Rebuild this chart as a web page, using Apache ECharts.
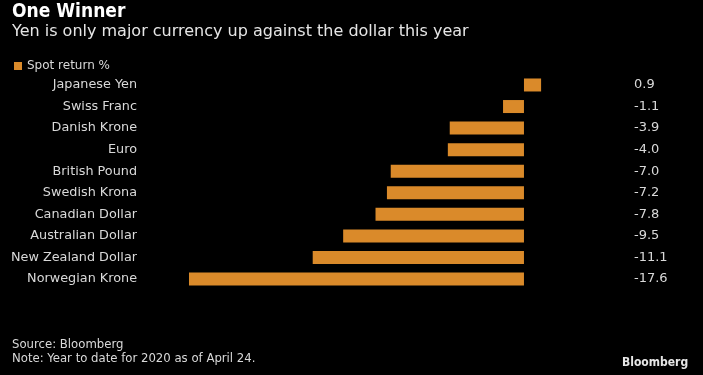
<!DOCTYPE html>
<html><head><meta charset="utf-8">
<script src="https://cdn.jsdelivr.net/npm/echarts@6/dist/echarts.min.js"></script>
<style>html,body{margin:0;padding:0;background:#000;}#c{width:703px;height:375px;}</style>
</head><body><div id="c"></div>
<script>
const categories = ["Japanese Yen","Swiss Franc","Danish Krone","Euro","British Pound","Swedish Krona","Canadian Dollar","Australian Dollar","New Zealand Dollar","Norwegian Krone"];
const spotReturn = [0.9,-1.1,-3.9,-4.0,-7.0,-7.2,-7.8,-9.5,-11.1,-17.6];
const valueLabels = ["0.9","-1.1","-3.9","-4.0","-7.0","-7.2","-7.8","-9.5","-11.1","-17.6"];

const chart = echarts.init(document.getElementById('c'), null, {renderer:'canvas'});
const font = 'DejaVu Sans';
chart.setOption({
  backgroundColor:'#000',
  animation:false,
  title:[
    {text:'One Winner',left:7,top:-2,textStyle:{color:'#fff',fontFamily:'DejaVu Sans Condensed',fontWeight:'bold',fontSize:19}},
    {text:'Yen is only major currency up against the dollar this year',left:7,top:19,textStyle:{color:'#e6e6e6',fontFamily:font,fontWeight:'normal',fontSize:16}},
    {text:'Source: Bloomberg\nNote: Year to date for 2020 as of April 24.',left:7,top:333,textStyle:{color:'#d9d9d9',fontFamily:'DejaVu Sans Condensed',fontWeight:'normal',fontSize:13,lineHeight:14}},
    {text:'Bloomberg',left:617,top:352,textStyle:{color:'#e6e6e6',fontFamily:'DejaVu Sans Condensed',fontWeight:'bold',fontSize:12}}
  ],
  legend:{left:9,top:55,itemWidth:8,itemHeight:8,icon:'rect',itemGap:6,
    textStyle:{color:'#d9d9d9',fontFamily:font,fontSize:12},data:['Spot return %']},
  grid:{left:189,right:160,top:74.2,bottom:375-289.8},
  xAxis:{type:'value',min:-17.6,max:1,show:false,splitLine:{show:false}},
  yAxis:[
    {type:'category',data:categories,inverse:true,axisLine:{show:false},axisTick:{show:false},
     axisLabel:{color:'#d9d9d9',fontFamily:font,fontSize:12.8,margin:52}},
    {type:'category',data:valueLabels,inverse:true,position:'right',axisLine:{show:false},axisTick:{show:false},
     axisLabel:{color:'#d9d9d9',fontFamily:font,fontSize:13,margin:91,align:'left'}}
  ],
  series:[{name:'Spot return %',type:'bar',data:spotReturn,barWidth:13,
    itemStyle:{color:'#da8a2a'}}]
});
</script></body></html>
